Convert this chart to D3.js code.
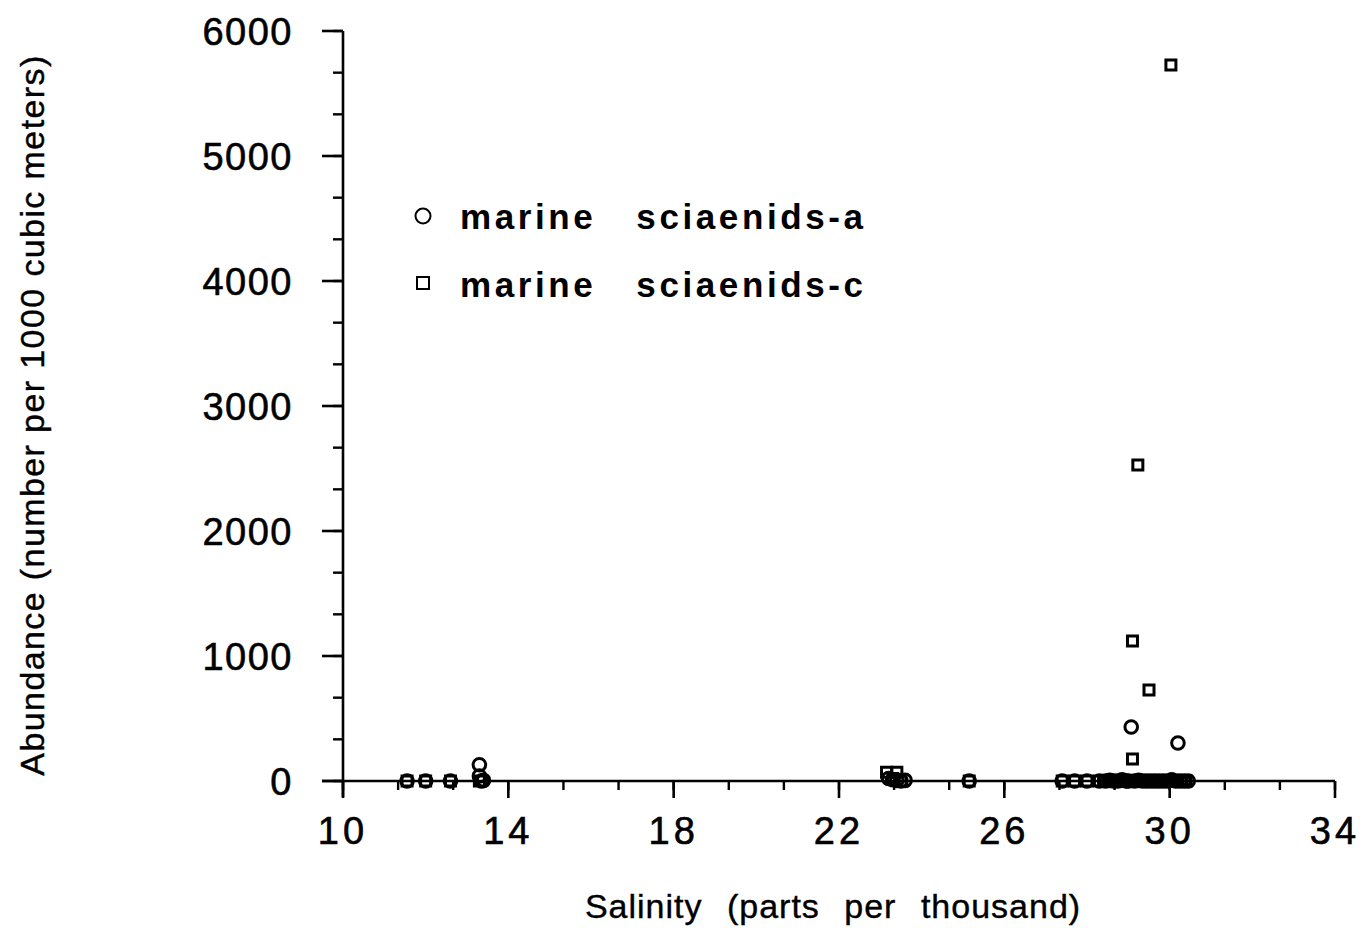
<!DOCTYPE html>
<html><head><meta charset="utf-8">
<script src="https://cdn.jsdelivr.net/npm/d3@7"></script>
<style>body{margin:0;background:#fff}svg{display:block}</style>
</head><body>
<svg id="c" width="1368" height="928"></svg>
<script>
// Data
const salinityA = [11.55,12.0,12.6,13.3,13.3,13.35,13.4,23.2,23.3,23.4,23.5,23.6,25.15,27.4,27.7,28.0,28.3,28.45,28.55,28.65,28.75,28.85,28.95,29.0,29.07,29.15,29.25,29.35,29.45,29.55,29.65,29.75,29.85,29.95,30.05,30.15,30.2,30.25,30.35,30.45];
const abundanceA = [0,0,0,130,40,0,5,20,10,5,0,5,0,0,0,0,0,0,5,0,0,10,0,0,432,0,5,0,0,0,0,0,0,0,10,0,304,0,0,0];
const salinityC = [11.55,12.0,12.6,13.3,23.15,23.4,23.3,23.5,25.15,27.4,27.7,28.0,28.3,28.4,28.5,28.6,28.7,28.8,28.9,29.0,29.05,29.1,29.1,29.23,29.5,29.15,29.2,29.3,29.35,29.4,29.5,29.55,29.6,29.7,29.75,29.8,29.9,30.03,30.0,30.1,30.15,30.2,30.3,30.4];
const abundanceC = [0,0,0,0,70,70,20,0,0,0,0,0,0,0,0,0,0,0,0,0,0,1120,176,2528,728,0,0,0,0,0,0,0,0,0,0,0,0,5728,0,0,0,0,0,0];
const xTicks = [10,14,18,22,26,30,34];
const yTicks = [0,1000,2000,3000,4000,5000,6000];
const legendLabels = ["marine   sciaenids-a","marine   sciaenids-c"];

const svg = d3.select("#c");
const x = d3.scaleLinear().domain([10,34]).range([343,1335]);
const y = d3.scaleLinear().domain([0,6000]).range([781,31]);
const font = "'Liberation Sans', Arial, Helvetica, sans-serif";

// minor ticks (thirds of major steps)
const xMinor = d3.range(10, 34.001, 4/3);
const yMinor = d3.range(0, 6000.1, 1000/3);

const g = svg.append("g");
// y axis
g.append("line").attr("x1",x(10)).attr("x2",x(10)).attr("y1",y(6000)).attr("y2",y(0)+16)
  .attr("stroke","#000").attr("stroke-width",2.6);
g.selectAll(".ymin").data(yMinor).enter().append("line")
  .attr("x1",x(10)-10).attr("x2",x(10)).attr("y1",d=>y(d)).attr("y2",d=>y(d))
  .attr("stroke","#000").attr("stroke-width",2.4);
g.selectAll(".ymaj").data(yTicks).enter().append("line")
  .attr("x1",x(10)-21).attr("x2",x(10)).attr("y1",d=>y(d)).attr("y2",d=>y(d))
  .attr("stroke","#000").attr("stroke-width",2.6);
g.selectAll(".ylab").data(yTicks).enter().append("text")
  .attr("x",x(10)-50).attr("y",d=>y(d)).attr("dy","0.36em")
  .attr("text-anchor","end").attr("font-family",font).attr("font-size",38)
  .attr("letter-spacing",1.5).attr("stroke","#000").attr("stroke-width",0.6).text(d=>d);
// x axis
g.append("line").attr("x1",x(10)-21).attr("x2",x(34)).attr("y1",y(0)).attr("y2",y(0))
  .attr("stroke","#000").attr("stroke-width",2.6);
g.selectAll(".xmin").data(xMinor).enter().append("line")
  .attr("x1",d=>x(d)).attr("x2",d=>x(d)).attr("y1",y(0)).attr("y2",y(0)+9)
  .attr("stroke","#000").attr("stroke-width",2.4);
g.selectAll(".xmaj").data(xTicks).enter().append("line")
  .attr("x1",d=>x(d)).attr("x2",d=>x(d)).attr("y1",y(0)).attr("y2",y(0)+17)
  .attr("stroke","#000").attr("stroke-width",2.6);
g.selectAll(".xlab").data(xTicks).enter().append("text")
  .attr("x",d=>x(d)).attr("y",y(0)+63)
  .attr("text-anchor","middle").attr("font-family",font).attr("font-size",38)
  .attr("letter-spacing",4).attr("stroke","#000").attr("stroke-width",0.6).text(d=>d);

// axis titles
svg.append("text").attr("x",833).attr("y",918).attr("text-anchor","middle")
  .attr("font-family",font).attr("font-size",34).attr("letter-spacing",1)
  .attr("word-spacing",14).attr("stroke","#000").attr("stroke-width",0.4)
  .text("Salinity (parts per thousand)");
svg.append("text").attr("transform","translate(44,415) rotate(-90)").attr("text-anchor","middle")
  .attr("font-family",font).attr("font-size",34).attr("letter-spacing",1.4)
  .attr("stroke","#000").attr("stroke-width",0.4)
  .text("Abundance (number per 1000 cubic meters)");

// points
const A = salinityA.map((s,i)=>({s, v: abundanceA[i]}));
const C = salinityC.map((s,i)=>({s, v: abundanceC[i]}));
svg.append("g").selectAll("rect").data(C).enter().append("rect")
  .attr("x",d=>x(d.s)-5).attr("y",d=>y(d.v)-5).attr("width",10).attr("height",10)
  .attr("fill","none").attr("stroke","#000").attr("stroke-width",3);
svg.append("g").selectAll("circle").data(A).enter().append("circle")
  .attr("cx",d=>x(d.s)).attr("cy",d=>y(d.v)).attr("r",6.3)
  .attr("fill","none").attr("stroke","#000").attr("stroke-width",3);

// legend
const lg = svg.append("g");
lg.append("circle").attr("cx",423).attr("cy",216).attr("r",7.5)
  .attr("fill","none").attr("stroke","#000").attr("stroke-width",2);
lg.append("rect").attr("x",417).attr("y",277).attr("width",12).attr("height",12)
  .attr("fill","none").attr("stroke","#000").attr("stroke-width",2);
lg.selectAll("text").data(legendLabels).enter().append("text")
  .attr("x",460).attr("y",(d,i)=>229+i*68)
  .attr("font-family",font).attr("font-size",35).attr("font-weight","bold")
  .attr("letter-spacing",3.6).attr("xml:space","preserve").style("white-space","pre")
  .text(d=>d);
</script>
</body></html>
